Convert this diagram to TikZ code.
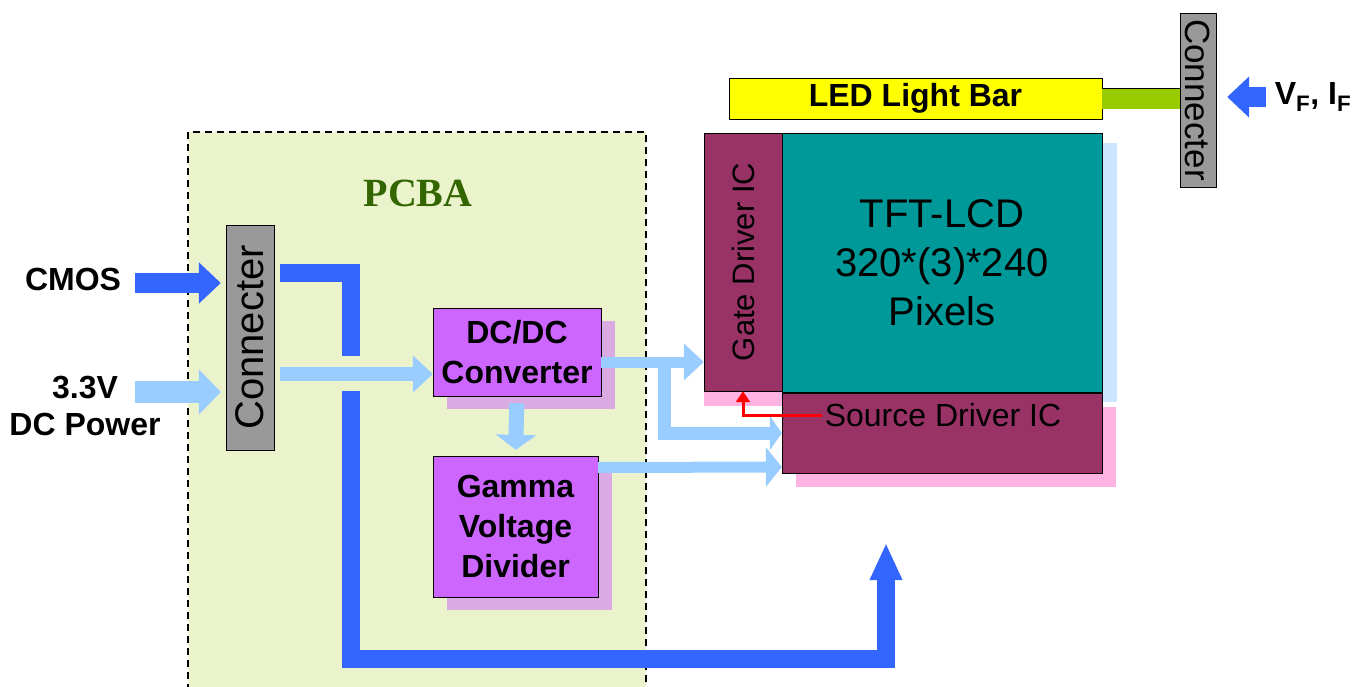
\documentclass[tikz,border=0pt]{standalone}
\usepackage{fontspec}
\setmainfont{Liberation Sans}
\newfontfamily\pcbafont{Liberation Serif}
\usetikzlibrary{arrows.meta,positioning}
\definecolor{bus}{HTML}{3366FF}
\definecolor{pwr}{HTML}{99CCFF}
\definecolor{pcb}{HTML}{EBF3CC}
\definecolor{pcbtext}{HTML}{336600}
\definecolor{chip}{HTML}{CC66FF}
\definecolor{chipshade}{HTML}{DAAAE3}
\definecolor{drv}{HTML}{993366}
\definecolor{drvshade}{HTML}{FFB3E3}
\definecolor{panel}{HTML}{009999}
\definecolor{panelshade}{HTML}{CCE5FF}
\definecolor{plugfill}{gray}{0.6}
\definecolor{barfill}{HTML}{FFFF00}
\definecolor{cable}{HTML}{99CC00}

\begin{document}
\begin{tikzpicture}[x=1pt,y=-1pt,
box/.style={draw,fill=chip,inner sep=0pt,align=center,font=\fontsize{32}{40}\selectfont\bfseries},
drvbox/.style={draw,fill=drv,inner sep=0pt},
plug/.style={draw,fill=plugfill,inner sep=0pt},
lbl/.style={inner sep=3pt,align=center,font=\fontsize{32}{37}\selectfont\bfseries},
fatbus/.style={draw=bus,line width=18pt},
busarrow/.style={draw=bus,line width=20pt,-{Triangle[width=40pt,length=22pt]}},
pwrarrow/.style={draw=pwr,line width=22pt,-{Triangle[width=44pt,length=22pt]}},
pwrline/.style={draw=pwr,line width=12pt,-{Triangle[width=36pt,length=20pt]}}]
\useasboundingbox (0,0) rectangle (1365,686);
% PCBA board
\draw[fill=pcb,dashed,dash pattern=on 7pt off 5pt,line width=1.5pt] (188,132) rectangle (646,700);
\node[font=\pcbafont\fontsize{40}{40}\selectfont\bfseries,text=pcbtext] (pcba) at (418,193) {PCBA};
% shadows
\fill[chipshade] (447,321) rectangle (615,409);
\fill[chipshade] (447,469) rectangle (612,610);
\fill[panelshade] (797,143) rectangle (1117,402);
\fill[drvshade] (704,148) rectangle (782,406);
\fill[drvshade] (796,407) rectangle (1116,487);
% blocks
\node[plug,minimum width=48pt,minimum height=225pt,font=\fontsize{40}{40}\selectfont] (lconn) at (250,337.5) {\rotatebox{90}{Connecter}};
\node[box,minimum width=168pt,minimum height=88pt] (dcdc) at (517,352) {DC/DC\\Converter};
\node[box,minimum width=165pt,minimum height=141pt] (gamma) at (515.5,526.5) {Gamma\\Voltage\\Divider};
\node[drvbox,minimum width=78pt,minimum height=258pt,font=\fontsize{31}{31}\selectfont] (gate) at (743,262) {\rotatebox{90}{Gate Driver IC}};
\node[draw,fill=panel,minimum width=320pt,minimum height=259pt,align=center,font=\fontsize{40}{49}\selectfont] (tft) at (942,262.5) {TFT-LCD\\320*(3)*240\\Pixels};
\node[drvbox,minimum width=320pt,minimum height=80pt] (src) at (942,433) {};
\node[inner sep=3pt,font=\fontsize{32}{32}\selectfont] (srclbl) at (943,415) {Source Driver IC};
\node[draw,fill=barfill,minimum width=373pt,minimum height=41pt,inner sep=0pt,font=\fontsize{32}{32}\selectfont\bfseries] (led) at (915.5,98.5) {LED Light Bar};
\node[plug,minimum width=36pt,minimum height=174pt,font=\fontsize{35}{35}\selectfont] (rconn) at (1198,100) {\rotatebox{-90}{Connecter}};
% inputs
\node[lbl] (cmos) at (73,279) {CMOS};
\node[lbl] (power) at (85,406) {3.3V\\DC Power};
\node[lbl] (vf) at (1313,97) {V\textsubscript{F}, I\textsubscript{F}};
\coordinate (cmosin) at (135,283);
\coordinate (pwrin) at (135,392);
\coordinate (vfin) at (1266,97);
\draw[busarrow,shorten >=5pt] (cmosin) -- (cmosin -| lconn.west);
\draw[pwrarrow,shorten >=5pt] (pwrin) -- (pwrin -| lconn.west);
\draw[busarrow,shorten >=11pt] (vfin) -- (vfin -| rconn.east);
\draw[draw=black,double=cable,double distance=20pt,line width=0.8pt] (led.east) -- (led.east -| rconn.west);
% data bus
\coordinate (busin) at (280,273);
\coordinate (gapa) at (351,356);
\coordinate (gapb) at (351,391);
\coordinate (buscorner) at (351,659);
\coordinate (busend) at (886,543);
\draw[fatbus] (busin) -| (gapa);
\draw[fatbus,-{Triangle[width=30pt,length=37pt]}] (gapb) -- (buscorner) -| (busend);
% power
\coordinate (pwrbus) at (280,374);
\coordinate (split) at (664,362);
\draw[pwrline,line width=14pt] (pwrbus) -- (pwrbus -| dcdc.west);
\draw[pwrline,line width=15pt,-{Triangle[width=40pt,length=15pt]},shorten <=7pt,shorten >=6pt] (dcdc.south) -- (gamma.north);
\draw[pwrline,line width=11pt] (split -| dcdc.east) -- (split -| gate.west);
\draw[pwrline,line width=13pt,-{Triangle[width=34pt,length=12pt]}] (split) |- (src.west);
\draw[pwrline,line width=11pt,-{Triangle[width=39pt,length=16pt]}] ([yshift=59pt]gamma.east) -- ([yshift=-34pt]src.west);
\draw[red,line width=3pt,-{Triangle[width=14pt,length=11pt]}] (srclbl.west) -| (gate.south);
\end{tikzpicture}
\end{document}
